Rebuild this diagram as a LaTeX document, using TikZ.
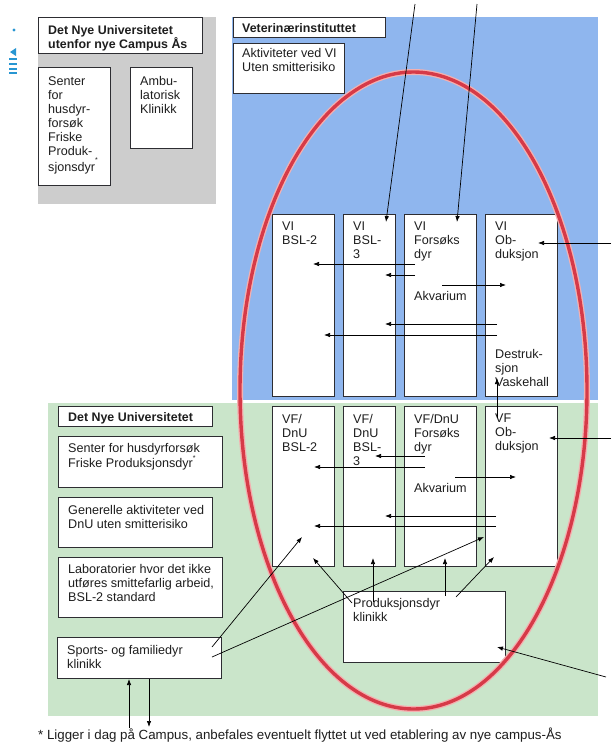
\documentclass[tikz,border=0pt]{standalone}
\usepackage{fontspec}
\setmainfont{Liberation Sans}
\usetikzlibrary{arrows.meta,calc}
\definecolor{grayfill}{RGB}{205,205,205}
\definecolor{bluefill}{RGB}{143,182,238}
\definecolor{greenfill}{RGB}{202,229,202}
\definecolor{redring}{RGB}{214,58,72}
\definecolor{ringhalo}{RGB}{244,176,176}
\definecolor{edge}{RGB}{45,45,50}
\definecolor{inkc}{RGB}{30,30,30}
\definecolor{artblue}{RGB}{40,150,210}
\tikzset{
  boxst/.style={draw=edge, line width=1.1pt, fill=white, inner sep=0pt, anchor=north west},
  txt/.style={inner sep=0pt, anchor=north west, align=left, text=inkc, font=\fontsize{12.6}{14}\selectfont},
  ttl/.style={txt, font=\fontsize{12.4}{14.6}\selectfont\bfseries},
  arr/.style={draw=black, line width=0.7pt, -{Latex[length=6pt,width=4.5pt]}},
  ln/.style={draw=black, line width=0.7pt},
}
\newcommand\bx[5]{\node[boxst, minimum width=#4pt, minimum height=#5pt] (#1) at (#2,#3) {};}
\newcommand\bt[5]{\node[#2] (#1-t) at ($(#1.north west)+(#3,#4)$) {#5};}
\newcommand\astr[1]{\rlap{\raisebox{#1}{\fontsize{7}{7}\selectfont *}}}
\begin{document}
\begin{tikzpicture}[x=1pt,y=-1pt]
\useasboundingbox (0,0) rectangle (611,742);
\fill[white] (0,0) rectangle (611,742);
% background regions
\fill[grayfill] (38,17) rectangle (216,204);
\fill[bluefill] (232,17) rectangle (598,400);
\fill[greenfill] (48,403) rectangle (598,716);
% scanner mark at left
\fill[artblue] (14,30) circle (1.6);
\fill[artblue] (10,52) -- (16,48) -- (16,56) -- cycle;
\foreach \yy in {58,63,68,72} \fill[artblue] (9,\yy) rectangle (17,\yy+2.2);
% gray area
\bx{gtitle}{38}{17}{164}{36}
\bt{gtitle}{ttl}{10}{8}{Det Nye Universitetet\\utenfor nye Campus Ås}
\bx{gsenter}{38}{67}{72}{118}
\bt{gsenter}{txt}{10}{9}{Senter\\for\\husdyr-\\forsøk\\Friske\\Produk-\\[2pt]sjonsdyr\astr{9pt}}
\bx{gambu}{130}{67}{62}{81}
\bt{gambu}{txt}{10}{9}{Ambu-\\latorisk\\Klinikk}
% blue area
\bx{vtitle}{233}{17}{152}{20}
\bt{vtitle}{ttl}{9}{6}{Veterinærinstituttet}
\bx{vakt}{233}{43}{111}{50}
\bt{vakt}{txt}{9}{5}{Aktiviteter ved VI\\Uten smitterisiko}
\bx{va}{272}{214}{62}{182}
\bt{va}{txt}{10}{8}{VI\\BSL-2}
\bx{vb}{343}{214}{52}{182}
\bt{vb}{txt}{10}{8}{VI\\BSL-\\3}
\bx{vc}{404}{214}{72}{182}
\bt{vc}{txt}{10}{8}{VI\\Forsøks\\dyr}
\node[txt] (vc-ak) at ($(vc.north west)+(10,77)$) {Akvarium};
\bx{vd}{485}{214}{72}{182}
\bt{vd}{txt}{10}{8}{VI\\Ob-\\duksjon}
\node[txt] (vd-de) at ($(vd.north west)+(10,135)$) {Destruk-\\sjon\\Vaskehall};
% green area
\bx{ntitle}{58}{406}{154}{20}
\bt{ntitle}{ttl}{10}{6}{Det Nye Universitetet}
\bx{nsenter}{58}{436}{164}{51}
\bt{nsenter}{txt}{10}{7}{Senter for husdyrforsøk\\Friske Produksjonsdyr\astr{7pt}}
\bx{ngen}{58}{497}{154}{50}
\bt{ngen}{txt}{10}{8}{Generelle aktiviteter ved\\DnU uten smitterisiko}
\bx{nlab}{58}{557}{164}{60}
\bt{nlab}{txt}{10}{7}{Laboratorier hvor det ikke\\utføres smittefarlig arbeid,\\BSL-2 standard}
\bx{nsport}{57}{637}{164}{41}
\bt{nsport}{txt}{10}{8}{Sports- og familiedyr\\klinikk}
\bx{fa}{272}{406}{62}{160}
\bt{fa}{txt}{10}{8}{VF/\\DnU\\BSL-2}
\bx{fb}{343}{406}{52}{160}
\bt{fb}{txt}{10}{8}{VF/\\DnU\\BSL-\\3}
\bx{fc}{404}{406}{72}{160}
\bt{fc}{txt}{10}{8}{VF/DnU\\Forsøks\\dyr}
\node[txt] (fc-ak) at ($(fc.north west)+(10,77)$) {Akvarium};
\bx{fd}{485}{406}{72}{160}
\bt{fd}{txt}{10}{8}{VF\\Ob-\\duksjon}
\bx{nprod}{343}{591}{162}{71}
\bt{nprod}{txt}{10}{7}{Produksjonsdyr\\klinikk}
% red ring
\draw[ringhalo, line width=6pt] (413.5,390.5) ellipse [x radius=173.5, y radius=318.5];
\draw[redring, line width=3.4pt] (413.5,390.5) ellipse [x radius=173.5, y radius=318.5];
% coordinates
\coordinate (t1s) at (415,4);   \coordinate (t1e) at (386,222);
\coordinate (t2s) at (477,4);   \coordinate (t2e) at (457,222);
\coordinate (a1s) at (415,264); \coordinate (a1e) at (313,264);
\coordinate (a2s) at (415,275); \coordinate (a2e) at (385,275);
\coordinate (a3s) at (442,285); \coordinate (a3e) at (506,285);
\coordinate (a4s) at (497,324); \coordinate (a4e) at (385,324);
\coordinate (a5s) at (497,335); \coordinate (a5e) at (324,335);
\coordinate (vus) at (497,418); \coordinate (vue) at (497,378);
\coordinate (r1s) at (611,243); \coordinate (r1e) at (538,243);
\coordinate (r2s) at (611,438); \coordinate (r2e) at (549,438);
\coordinate (r3s) at (606,677); \coordinate (r3e) at (497,647);
\coordinate (b1s) at (425,456); \coordinate (b1e) at (375,456);
\coordinate (b2s) at (425,467); \coordinate (b2e) at (314,467);
\coordinate (b3s) at (455,477); \coordinate (b3e) at (516,477);
\coordinate (b4s) at (496,516); \coordinate (b4e) at (385,516);
\coordinate (b5s) at (496,526); \coordinate (b5e) at (314,526);
\coordinate (p1s) at (352,603); \coordinate (p1e) at (313,558);
\coordinate (p2s) at (373,602); \coordinate (p2e) at (373,558);
\coordinate (p3s) at (445,596); \coordinate (p3e) at (445,558);
\coordinate (p4s) at (456,597); \coordinate (p4e) at (494,557);
\coordinate (s1s) at (212,647); \coordinate (s1e) at (302,537);
\coordinate (s2s) at (212,657); \coordinate (s2e) at (484,537);
\coordinate (u1s) at (129,728); \coordinate (u1e) at (129,679);
\coordinate (u2s) at (149,679); \coordinate (u2e) at (149,727);
% connectors
\foreach \c in {t1,t2,a1,a2,a3,a4,a5,vu,r1,r2,r3,b1,b2,b3,b4,b5,p1,p2,p3,p4,s1,s2,u1,u2}
  \draw[arr] (\c s) -- (\c e);
% footnote
\node[txt, anchor=base west, font=\fontsize{13.3}{14}\selectfont] (foot) at (38,739) {* Ligger i dag på Campus, anbefales eventuelt flyttet ut ved etablering av nye campus-Ås};
\end{tikzpicture}
\end{document}
